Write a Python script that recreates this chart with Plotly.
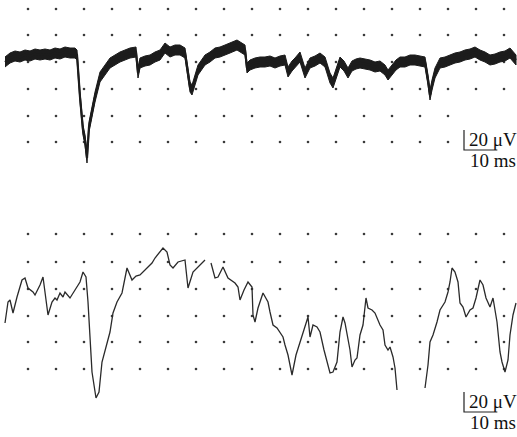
import plotly.graph_objects as go

# ---- data (time in ms, amplitude in µV) ----
top_t = [1.5, 3.0, 4.5, 6.0, 7.5, 9.0, 10.5, 12.0, 13.5, 15.0, 16.5, 18.0, 19.5, 21.0, 22.5, 23.1,
         24.0, 24.9, 25.5, 26.1, 26.7, 27.6, 28.5, 30.0, 31.5, 33.0, 34.5, 36.0, 37.5, 39.0, 40.8,
         41.4, 42.0, 43.5, 45.0, 46.5, 48.0, 49.5, 51.0, 52.5, 54.0, 55.5, 57.0, 57.6, 58.5, 59.4,
         61.5, 63.0, 64.5, 66.0, 67.5, 69.0, 71.1, 73.5, 74.1, 75.0, 76.5, 78.0, 79.5, 81.0, 82.5,
         84.0, 85.5, 86.4, 87.6, 88.5, 90.0, 91.5, 93.0, 94.5, 96.0, 97.5, 99.0, 99.9, 101.1, 102.0,
         103.2, 104.4, 105.6, 106.8, 108.0, 109.5, 111.0, 112.5, 114.0, 115.5, 116.4, 117.6, 118.8,
         120.0, 121.5, 123.0, 124.5, 126.0, 127.5, 128.4, 129.0, 129.6, 130.5, 132.0, 133.5, 135.0,
         136.5, 138.0, 139.5, 141.0, 142.5, 144.0, 145.5, 147.0, 148.5, 150.0, 151.5, 153.0, 154.8]
top_v = [-2, 2, 4, 3, 5, 4, 6, 5, 6, 5, 7, 6, 8, 7, 7, 5,
         -37, -70, -80, -98, -67, -52, -37, -17, -10, -3, 0, 3, 5, 7, 8,
         -13, -3, -1, 0, 3, 5, 12, 8, 10, 10, 7, -27, -30, -20, -10,
         0, 3, 7, 8, 10, 12, 15, 10, -8, -5, -3, -2, -2, -1, -3,
         -1, 0, -12, -6, -3, 3, -13, -3, -1, 2, -2, -18, -23, -12, -2,
         -6, -13, -6, -4, -3, -4, -5, -7, -6, -10, -15, -10, -5,
         -2, -2, 0, 0, -1, -2, -20, -35, -25, -13, -3, -2, 0,
         2, 3, 5, 6, 8, 5, 3, 0, 1, 3, 4, 7, 0]

bot_t = [1.5, 2.4, 3.0, 3.9, 5.1, 6.6, 7.5, 8.4, 9.9, 10.5, 12.0, 12.9, 14.4, 15.6, 16.5, 17.1,
         18.0, 18.9, 19.5, 21.0, 22.5, 24.0, 24.9, 25.8, 26.4, 27.0, 27.6, 28.8, 29.7, 30.6, 31.8,
         33.0, 33.9, 35.1, 36.6, 38.1, 39.6, 40.8, 42.0, 43.2, 44.4, 45.6, 46.5, 48.0, 48.9, 50.1,
         51.0, 51.9, 53.4, 55.5, 56.4, 57.9, 60.0, 61.5, None,
         63.3, 64.5, 65.4, 66.9, 68.4, 70.5, 71.4, 72.0, 73.2, 74.4, 75.6, 75.9, 76.5, 77.4, 78.9,
         79.8, 80.4, 81.0, 81.9, 83.1, 84.0, 84.9, 85.5, 86.4, 87.0, 87.6, 88.8, 90.0, 91.5, 92.4,
         93.0, 93.9, 95.1, 96.0, 97.2, 98.1, 99.0, 99.9, 101.1, 102.0, 102.9, 103.5, 105.0, 105.6,
         106.5, 107.1, 108.0, 108.9, 109.8, 110.4, 111.6, 112.5, 114.0, 114.9, 115.5, 116.4, 117.0,
         117.9, 118.5, 119.1, None,
         127.5, 128.4, 129.0, 129.9, 131.1, 132.0, 133.5, 134.4, 135.0, 135.6, 136.5, 137.4, 138.0,
         138.9, 139.8, 141.0, 141.9, 142.8, 144.0, 144.9, 145.8, 146.4, 147.0, 147.9, 148.5, 149.1,
         150.0, 150.6, 151.5, 152.4, 153.0, 153.9, 154.8]
bot_v = [-33, -12, -10, -23, -7, 10, 12, 2, -2, -5, 5, 13, -25, -12, -8, -10,
         -3, -7, -2, -8, 0, 8, 18, 13, -12, -55, -82, -108, -102, -72, -58,
         -42, -23, -12, -3, 22, 10, 14, 15, 19, 22, 27, 32, 38, 42, 38,
         25, 22, 28, 30, 2, 18, 25, 30, None,
         27, 12, 13, 23, 12, 7, 3, -10, 0, 8, 3, -25, -32, -18, -3,
         -8, -12, -22, -35, -38, -42, -47, -55, -65, -75, -85, -65, -52, -35, -27,
         -47, -35, -37, -42, -60, -72, -83, -82, -72, -42, -27, -33, -60, -77,
         -70, -68, -45, -35, -8, -18, -20, -23, -35, -40, -55, -60, -57,
         -67, -78, -100, None,
         -98, -75, -52, -45, -32, -20, -12, -2, 8, 22, 18, 8, -13,
         -17, -27, -20, -18, -8, 10, 5, -8, -13, -17, -8, -20, -32,
         -62, -72, -82, -70, -45, -25, -13]

grid_t = [8.4 * k for k in range(1, 19)]
top_rows = [51, 25, -2, -29, -56, -82]
bot_rows = [56, 28, 1, -26, -52, -79]
top_short_rows = 2          # last rows of the top panel stop earlier
top_short_limit = 135.0

scale_ms = 10
scale_uv = 20
scale_labels = ["20 μV", "10 ms"]

NOISE_HALF = 5.0   # style: half-height of the noisy band drawn around the top trace

# ---- build figure ----
fig = go.Figure()

def dots(rows, xa, ya, short_rows=0, limit=None):
    xs, ys = [], []
    for i, r in enumerate(rows):
        for t in grid_t:
            if short_rows and i >= len(rows) - short_rows and t > limit:
                continue
            xs.append(t)
            ys.append(r)
    fig.add_trace(go.Scatter(x=xs, y=ys, mode="markers", xaxis=xa, yaxis=ya,
                             marker=dict(size=2.6, color="#3a3a3a"), hoverinfo="skip"))

dots(top_rows, "x", "y", top_short_rows, top_short_limit)
dots(bot_rows, "x2", "y2")

# top trace: band (vertical noise) + thin core line
band_x = top_t + top_t[::-1]
band_y = [v + NOISE_HALF for v in top_v] + [v - NOISE_HALF for v in top_v[::-1]]
fig.add_trace(go.Scatter(x=band_x, y=band_y, mode="lines", xaxis="x", yaxis="y",
                         fill="toself", fillcolor="#1c1c1c",
                         line=dict(color="#1c1c1c", width=1), hoverinfo="skip"))
fig.add_trace(go.Scatter(x=top_t, y=top_v, mode="lines", xaxis="x", yaxis="y",
                         line=dict(color="#1c1c1c", width=2.2), hoverinfo="skip"))

fig.add_trace(go.Scatter(x=bot_t, y=bot_v, mode="lines", xaxis="x2", yaxis="y2",
                         line=dict(color="#2a2a2a", width=1.3), hoverinfo="skip",
                         connectgaps=False))

# scale bars
def scalebar(xa, ya, t0, v0):
    xs = [t0, t0, t0 + scale_ms]
    ys = [v0 + scale_uv, v0, v0]
    fig.add_trace(go.Scatter(x=xs, y=ys, mode="lines", xaxis=xa, yaxis=ya,
                             line=dict(color="#222", width=1.2), hoverinfo="skip"))
    fig.add_annotation(x=t0 + 0.9, y=v0 + scale_uv / 2 + 1, xref=xa, yref=ya, text=scale_labels[0],
                       showarrow=False, xanchor="left", yanchor="middle",
                       font=dict(family="Liberation Serif", size=19, color="#111"))
    fig.add_annotation(x=t0 + 1.1, y=v0 - 10, xref=xa, yref=ya, text=scale_labels[1],
                       showarrow=False, xanchor="left", yanchor="middle",
                       font=dict(family="Liberation Serif", size=19, color="#111"))

scalebar("x", "y", 139.2, -90)
scalebar("x2", "y2", 139.2, -122)

ax = dict(visible=False, showgrid=False, zeroline=False, fixedrange=True)
fig.update_layout(
    width=517, height=437, margin=dict(l=0, r=0, t=0, b=0),
    paper_bgcolor="white", plot_bgcolor="white", showlegend=False,
    xaxis=dict(ax, range=[0, 155.1], anchor="y"),
    yaxis=dict(ax, range=[-158.5, 60], domain=[0.5, 1]),
    xaxis2=dict(ax, range=[0, 155.1], anchor="y2"),
    yaxis2=dict(ax, range=[-147, 71.5], domain=[0, 0.5]),
)
fig.write_html("out.html", config={"displayModeBar": False},
               post_script="document.body.style.margin='0';document.body.style.overflow='hidden';")
